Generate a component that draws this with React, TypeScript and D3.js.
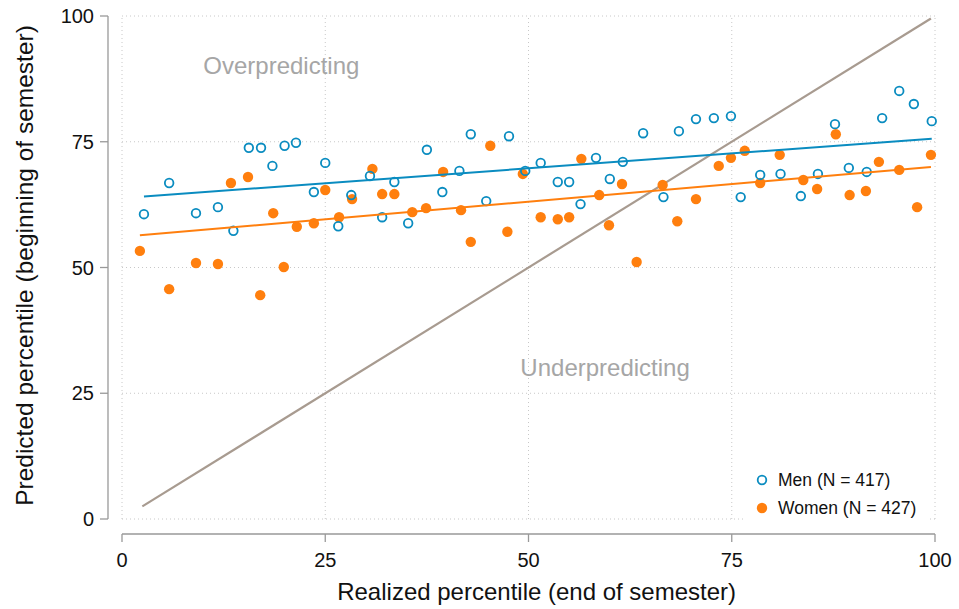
import { useEffect, useRef } from 'react';
import * as d3 from 'd3';

const menX = [2.7, 5.8, 9.1, 11.8, 13.7, 15.6, 17.1, 18.5, 20.0, 21.4, 25.0, 23.6, 26.6, 28.2, 30.5, 32.0, 33.5, 35.2, 37.5, 39.4, 41.5, 42.9, 44.8, 47.6, 49.6, 51.5, 53.6, 55.0, 56.4, 58.3, 60.0, 61.6, 64.1, 66.6, 68.5, 70.6, 72.8, 74.9, 76.1, 78.5, 81.0, 83.5, 85.6, 87.7, 89.4, 91.6, 93.5, 95.6, 97.4, 99.6];
const menY = [60.6, 66.8, 60.8, 62.0, 57.3, 73.8, 73.8, 70.2, 74.2, 74.8, 70.8, 65.0, 58.2, 64.4, 68.2, 60.0, 67.0, 58.8, 73.4, 65.0, 69.2, 76.5, 63.2, 76.1, 69.2, 70.8, 67.0, 67.0, 62.6, 71.8, 67.6, 71.0, 76.7, 64.0, 77.1, 79.5, 79.7, 80.1, 64.0, 68.4, 68.6, 64.2, 68.6, 78.5, 69.8, 69.0, 79.7, 85.1, 82.5, 79.1];

const womenX = [2.2, 5.8, 9.1, 11.8, 13.4, 15.5, 17.0, 18.6, 19.9, 21.5, 23.6, 25.0, 26.7, 28.3, 30.8, 32.0, 33.5, 35.7, 37.4, 39.5, 41.7, 42.9, 45.3, 47.4, 49.3, 51.5, 53.6, 55.0, 56.5, 58.7, 59.9, 61.5, 63.3, 66.5, 68.3, 70.6, 73.4, 74.9, 76.6, 78.5, 80.9, 83.8, 85.5, 87.8, 89.5, 91.5, 93.1, 95.6, 97.8, 99.5];
const womenY = [53.3, 45.7, 50.9, 50.7, 66.8, 68.0, 44.5, 60.8, 50.1, 58.1, 58.8, 65.4, 60.0, 63.6, 69.6, 64.6, 64.6, 61.0, 61.8, 69.0, 61.4, 55.1, 74.2, 57.1, 68.6, 60.0, 59.6, 60.0, 71.6, 64.4, 58.4, 66.6, 51.1, 66.4, 59.2, 63.6, 70.2, 71.8, 73.2, 66.8, 72.4, 67.4, 65.6, 76.5, 64.4, 65.2, 71.0, 69.4, 62.0, 72.4];

// fitted line endpoints
const menFit = [[2.7, 64.1], [99.6, 75.6]];
const womenFit = [[2.2, 56.4], [99.5, 70.0]];
const diagonal = [[2.5, 2.5], [99.5, 99.5]];

const ticks = [0, 25, 50, 75, 100];

const BLUE = '#0a8cc0';
const ORANGE = '#ff7f0e';
const FONT = 'Helvetica, "Liberation Sans", Arial, sans-serif';

export default function App() {
  const ref = useRef<SVGSVGElement>(null);

  useEffect(() => {
    const svg = d3.select(ref.current!);
    svg.selectAll('*').remove();

    const x = d3.scaleLinear().domain([0, 100]).range([122, 935]);
    const y = d3.scaleLinear().domain([0, 100]).range([519, 16]);

    // grid
    const grid = svg.append('g').attr('stroke', '#c8c8c8').attr('stroke-dasharray', '1,3').attr('stroke-width', 1);
    ticks.forEach(t => {
      grid.append('line').attr('x1', x(t)).attr('x2', x(t)).attr('y1', y(0)).attr('y2', y(100));
      grid.append('line').attr('x1', x(0)).attr('x2', x(100)).attr('y1', y(t)).attr('y2', y(t));
    });

    // axes
    const ax = svg.append('g').attr('stroke', '#999').attr('stroke-width', 1.3).attr('fill', 'none');
    ax.append('line').attr('x1', 108).attr('x2', 108).attr('y1', y(0)).attr('y2', y(100));
    ax.append('line').attr('x1', x(0)).attr('x2', x(100)).attr('y1', 534).attr('y2', 534);
    ticks.forEach(t => {
      ax.append('line').attr('x1', 100).attr('x2', 108).attr('y1', y(t)).attr('y2', y(t));
      ax.append('line').attr('x1', x(t)).attr('x2', x(t)).attr('y1', 534).attr('y2', 542);
    });

    const lbl = svg.append('g').attr('font-family', FONT).attr('font-size', 20).attr('fill', '#111');
    ticks.forEach(t => {
      lbl.append('text').attr('x', 94).attr('y', y(t) + 7).attr('text-anchor', 'end').text(t);
      lbl.append('text').attr('x', x(t)).attr('y', 567).attr('text-anchor', 'middle').text(t);
    });
    lbl.append('text').attr('x', x(51)).attr('y', 600).attr('text-anchor', 'middle').attr('font-size', 24)
      .text('Realized percentile (end of semester)');
    lbl.append('text').attr('transform', `translate(33,${y(50) - 2}) rotate(-90)`).attr('text-anchor', 'middle').attr('font-size', 24.5)
      .text('Predicted percentile (beginning of semester)');

    const line = d3.line<number[]>().x(d => x(d[0])).y(d => y(d[1]));
    svg.append('path').attr('d', line(diagonal)).attr('stroke', '#a89b90').attr('stroke-width', 2.2).attr('fill', 'none');

    svg.append('text').attr('x', x(10)).attr('y', y(88.5)).attr('font-family', FONT).attr('font-size', 24).attr('fill', '#a6a6a6').text('Overpredicting');
    svg.append('text').attr('x', x(49)).attr('y', y(28.5)).attr('font-family', FONT).attr('font-size', 24).attr('fill', '#a6a6a6').text('Underpredicting');

    svg.append('g').selectAll('circle').data(womenX).join('circle')
      .attr('cx', d => x(d)).attr('cy', (_, i) => y(womenY[i])).attr('r', 5.2).attr('fill', ORANGE);
    svg.append('g').selectAll('circle').data(menX).join('circle')
      .attr('cx', d => x(d)).attr('cy', (_, i) => y(menY[i])).attr('r', 4.3)
      .attr('fill', 'none').attr('stroke', BLUE).attr('stroke-width', 1.8);

    svg.append('path').attr('d', line(menFit)).attr('stroke', BLUE).attr('stroke-width', 2).attr('fill', 'none');
    svg.append('path').attr('d', line(womenFit)).attr('stroke', ORANGE).attr('stroke-width', 2).attr('fill', 'none');

    // legend
    const lg = svg.append('g');
    lg.append('rect').attr('x', 745).attr('y', 462).attr('width', 185).attr('height', 60).attr('fill', '#fff');
    lg.append('circle').attr('cx', 762).attr('cy', 480).attr('r', 4.3).attr('fill', 'none').attr('stroke', BLUE).attr('stroke-width', 1.8);
    lg.append('circle').attr('cx', 762).attr('cy', 508).attr('r', 5.2).attr('fill', ORANGE);
    lg.append('text').attr('x', 778).attr('y', 486).attr('font-family', FONT).attr('font-size', 17.5).attr('fill', '#111').text('Men (N = 417)');
    lg.append('text').attr('x', 778).attr('y', 514).attr('font-family', FONT).attr('font-size', 17.5).attr('fill', '#111').text('Women (N = 427)');
  }, []);

  return (
    <div style={{ position: 'fixed', left: 0, top: 0, width: 959, height: 609, background: '#fff' }}>
      <svg ref={ref} width={959} height={609} style={{ display: 'block' }} />
    </div>
  );
}
